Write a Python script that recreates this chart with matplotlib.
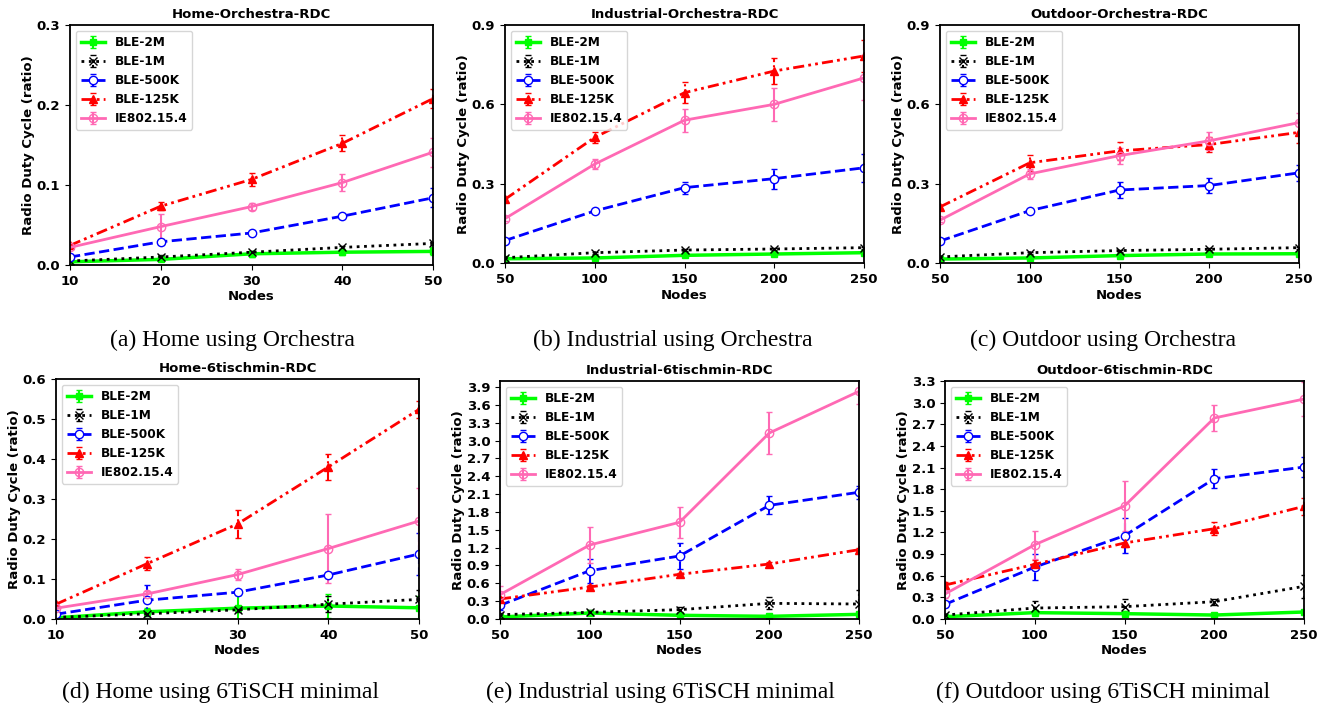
import matplotlib.pyplot as plt

nodes_home = [10, 20, 30, 40, 50]
nodes_big = [50, 100, 150, 200, 250]
labels = ['BLE-2M', 'BLE-1M', 'BLE-500K', 'BLE-125K', 'IE802.15.4']

# (a) Home-Orchestra
a_val = [[0.004, 0.007, 0.014, 0.016, 0.017],
         [0.005, 0.010, 0.016, 0.022, 0.027],
         [0.010, 0.029, 0.040, 0.061, 0.084],
         [0.0245, 0.0735, 0.107, 0.152, 0.208],
         [0.022, 0.048, 0.073, 0.103, 0.141]]
a_err = [[0.001, 0.002, 0.004, 0.004, 0.005],
         [0.001, 0.002, 0.002, 0.002, 0.002],
         [0.001, 0.002, 0.002, 0.002, 0.012],
         [0.002, 0.005, 0.008, 0.010, 0.012],
         [0.002, 0.016, 0.004, 0.011, 0.018]]

# (b) Industrial-Orchestra
b_val = [[0.016, 0.019, 0.029, 0.034, 0.039],
         [0.020, 0.039, 0.049, 0.053, 0.058],
         [0.085, 0.197, 0.285, 0.319, 0.360],
         [0.241, 0.475, 0.644, 0.726, 0.783],
         [0.168, 0.374, 0.540, 0.600, 0.700]]
b_err = [[0.003, 0.004, 0.004, 0.004, 0.005],
         [0.003, 0.004, 0.004, 0.004, 0.004],
         [0.005, 0.008, 0.023, 0.038, 0.052],
         [0.010, 0.021, 0.040, 0.048, 0.060],
         [0.008, 0.018, 0.043, 0.063, 0.085]]

# (c) Outdoor-Orchestra
c_val = [[0.015, 0.019, 0.028, 0.034, 0.035],
         [0.023, 0.039, 0.047, 0.052, 0.058],
         [0.083, 0.198, 0.276, 0.293, 0.341],
         [0.212, 0.379, 0.424, 0.448, 0.494],
         [0.162, 0.337, 0.406, 0.462, 0.531]]
c_err = [[0.003, 0.004, 0.004, 0.004, 0.004],
         [0.003, 0.004, 0.004, 0.004, 0.004],
         [0.005, 0.006, 0.030, 0.030, 0.030],
         [0.008, 0.030, 0.034, 0.030, 0.040],
         [0.008, 0.020, 0.030, 0.034, 0.037]]

# (d) Home-6tischmin
d_val = [[0.003, 0.018, 0.027, 0.0325, 0.028],
         [0.004, 0.013, 0.023, 0.037, 0.049],
         [0.012, 0.047, 0.067, 0.110, 0.1625],
         [0.037, 0.138, 0.2375, 0.380, 0.524],
         [0.027, 0.0625, 0.111, 0.176, 0.245]]
d_err = [[0.002, 0.010, 0.033, 0.030, 0.030],
         [0.002, 0.006, 0.006, 0.020, 0.024],
         [0.004, 0.037, 0.006, 0.008, 0.052],
         [0.004, 0.016, 0.035, 0.032, 0.021],
         [0.004, 0.008, 0.013, 0.086, 0.083]]

# (e) Industrial-6tischmin
e_val = [[0.034, 0.100, 0.062, 0.045, 0.078],
         [0.073, 0.112, 0.157, 0.263, 0.252],
         [0.230, 0.812, 1.059, 1.910, 2.130],
         [0.336, 0.538, 0.751, 0.924, 1.165],
         [0.409, 1.244, 1.625, 3.126, 3.826]]
e_err = [[0.01, 0.02, 0.02, 0.02, 0.02],
         [0.02, 0.04, 0.05, 0.10, 0.24],
         [0.08, 0.20, 0.22, 0.15, 0.11],
         [0.03, 0.03, 0.03, 0.03, 0.03],
         [0.14, 0.30, 0.26, 0.35, 0.22]]

# (f) Outdoor-6tischmin
f_val = [[0.032, 0.088, 0.074, 0.055, 0.097],
         [0.055, 0.152, 0.171, 0.240, 0.453],
         [0.203, 0.720, 1.155, 1.945, 2.107],
         [0.471, 0.758, 1.054, 1.252, 1.562],
         [0.347, 1.030, 1.567, 2.787, 3.050]]
f_err = [[0.01, 0.03, 0.03, 0.02, 0.03],
         [0.02, 0.10, 0.10, 0.04, 0.16],
         [0.04, 0.185, 0.245, 0.134, 0.134],
         [0.04, 0.06, 0.06, 0.088, 0.115],
         [0.06, 0.194, 0.35, 0.185, 0.24]]

panels = [
    ('Home-Orchestra-RDC', nodes_home, a_val, a_err, 0.3, [0, 0.1, 0.2, 0.3], '(a) Home using Orchestra'),
    ('Industrial-Orchestra-RDC', nodes_big, b_val, b_err, 0.9, [0, 0.3, 0.6, 0.9], '(b) Industrial using Orchestra'),
    ('Outdoor-Orchestra-RDC', nodes_big, c_val, c_err, 0.9, [0, 0.3, 0.6, 0.9], '(c) Outdoor using Orchestra'),
    ('Home-6tischmin-RDC', nodes_home, d_val, d_err, 0.6, [0, 0.1, 0.2, 0.3, 0.4, 0.5, 0.6], '(d) Home using 6TiSCH minimal'),
    ('Industrial-6tischmin-RDC', nodes_big, e_val, e_err, 4.0, [i * 0.3 for i in range(14)], '(e) Industrial using 6TiSCH minimal'),
    ('Outdoor-6tischmin-RDC', nodes_big, f_val, f_err, 3.3, [i * 0.3 for i in range(12)], '(f) Outdoor using 6TiSCH minimal'),
]

# axes boxes in pixels: left, top, right, bottom
boxes = [(70, 25, 433, 265), (505, 25, 864, 263), (940, 25, 1299, 263),
         (56, 379, 419, 619), (500, 381, 859, 619), (945, 381, 1304, 619)]
caption_pos = [(232, 340), (673, 340), (1103, 340), (220, 692), (660, 692), (1103, 692)]

styles = [
    dict(color='#00ff00', ls='-', marker='s', lw=2.5, mfc='#00ff00', ms=5),
    dict(color='black', ls=':', marker='x', lw=2, mfc='black', ms=5.5),
    dict(color='blue', ls='--', marker='o', lw=2, mfc='white', ms=6),
    dict(color='red', ls=(0, (4, 1.5, 1, 1.5, 1, 1.5)), marker='^', lw=2, mfc='red', ms=5.5),
    dict(color='#ff69b4', ls='-', marker='o', lw=2, mfc='none', ms=6),
]

W, H = 1323, 706
fig = plt.figure(figsize=(W / 100, H / 100), dpi=100)

for (title, xs, vals, errs, ymax, yt, cap), (l, t, r, b), (cx, cy) in zip(panels, boxes, caption_pos):
    ax = fig.add_axes([l / W, 1 - b / H, (r - l) / W, (b - t) / H])
    for v, e, lab, st in zip(vals, errs, labels, styles):
        cont = ax.errorbar(xs, v, yerr=e, label=lab, capsize=2.5, elinewidth=1.5, **st)
        for bars in cont.lines[2]:
            bars.set_linestyle(st['ls'])
    ax.set_xlim(xs[0], xs[-1])
    ax.set_ylim(0, ymax)
    ax.set_xticks(xs)
    ax.set_yticks(yt)
    ax.set_yticklabels(['%.1f' % y for y in yt])
    ax.set_title(title, fontsize=9.5, fontweight='bold', pad=5)
    ax.set_xlabel('Nodes', fontsize=9.5, fontweight='bold', labelpad=2)
    ax.set_ylabel('Radio Duty Cycle (ratio)', fontsize=9.5, fontweight='bold', labelpad=1)
    for lbl in ax.get_xticklabels() + ax.get_yticklabels():
        lbl.set_fontweight('bold')
        lbl.set_fontsize(9.5)
    for sp in ax.spines.values():
        sp.set_linewidth(1.3)
    ax.legend(loc='upper left', prop={'weight': 'bold', 'size': 8.7}, handlelength=2.0)
    fig.text(cx / W, 1 - cy / H, cap, ha='center', va='center',
             fontsize=17, family='Liberation Serif')

fig.savefig('out.png', dpi=100)
